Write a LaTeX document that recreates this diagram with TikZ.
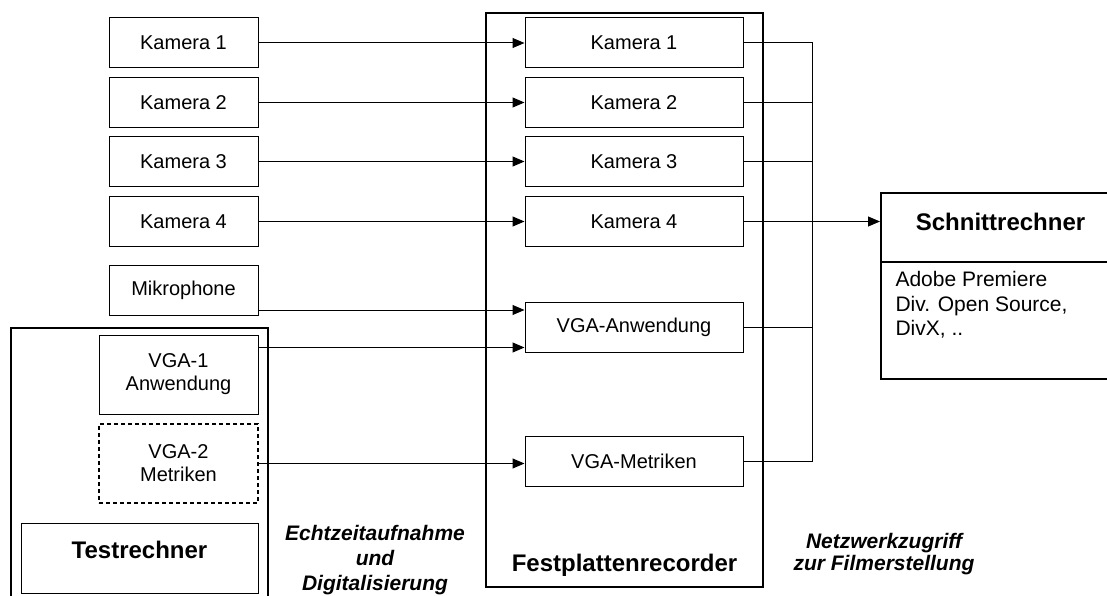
\documentclass[tikz,border=0pt]{standalone}
\usepackage{fontspec}
\setmainfont{Liberation Sans}
\usetikzlibrary{arrows.meta,calc}

\tikzset{every picture/.style={line width=1pt}}

\begin{document}
\begin{tikzpicture}[x=1pt,y=1pt,yscale=-1,xscale=1,
    srcbox/.style={draw, minimum width=149, minimum height=50, inner sep=0pt, align=center, font=\fontsize{20}{23}\selectfont},
    recbox/.style={draw, minimum width=218, minimum height=50, inner sep=0pt, font=\fontsize{20}{23}\selectfont},
    frame/.style={draw, line width=2pt, inner sep=0pt},
    title/.style={inner sep=0pt, font=\fontsize{24}{28}\selectfont\bfseries},
    note/.style={inner sep=0pt, align=center, font=\fontsize{21}{25}\selectfont\bfseries\itshape},
    feed/.style={-{Triangle[length=12pt,width=10pt]}}]
        \useasboundingbox (0,0) rectangle (1107,596);

        %Frames
        \node[frame, minimum width=277, minimum height=574] (recorder) at (624.5,300) {};
        \node[title] (recLabel) at (624.5,565) {Festplattenrecorder};
        \node[frame, minimum width=257, minimum height=290] (testpc) at (139.5,473) {};
        \node[draw, minimum width=237, minimum height=70, inner sep=0pt] (testBox) at (139.5,558) {};
        \node[title] (testLabel) at (139.5,550) {Testrechner};
        \node[frame, minimum width=239, minimum height=186] (schnitt) at (1000.5,286) {};
        \draw[line width=2pt] (schnitt.west |- 0,262) -- (schnitt.east |- 0,262);
        \node[title] (schnittLabel) at (1000.5,222) {Schnittrechner};
        \node[anchor=west, align=left, inner sep=0pt, font=\fontsize{21}{24.5}\selectfont] (schnittSw) at (895,305) {Adobe Premiere\\Div. Open Source,\\DivX, ..};

        %Cameras
        \foreach \i/\y in {1/43,2/102.5,3/161.5,4/221.5} {
            \node[srcbox] (k\i) at (183.5,\y) {Kamera \i};
            \node[recbox] (r\i) at (634,\y) {Kamera \i};
            \draw[feed] (k\i.east) -- (r\i.west);
        }

        %Sources
        \node[srcbox] (mic) at (183.5,290.5) {Mikrophone};
        \node[srcbox, minimum width=159, minimum height=79] (vga1) at (178.5,374.5) {VGA-1\\Anwendung};
        \node[srcbox, minimum width=159, minimum height=79, dashed, dash pattern=on 4pt off 3pt, line width=1.5pt] (vga2) at (178.5,463.5) {VGA-2\\Metriken};
        \node[recbox] (vgaA) at (634,327.5) {VGA-Anwendung};
        \node[recbox] (vgaM) at (634,461) {VGA-Metriken};

        \coordinate (micOut) at ($(mic.south east)+(0,-6)$);
        \coordinate (vga1Out) at ($(vga1.north east)+(0,13)$);
        \draw[feed] (micOut) -- (micOut -| vgaA.west);
        \draw[feed] (vga1Out) -- (vga1Out -| vgaA.west);
        \draw[feed] (vga2.east) -- (vga2.east -| vgaM.west);

        %Network
        \coordinate (bus) at (812,0);
        \draw (r1.east) -- (r1.east -| bus) -- (vgaM.east -| bus) -- (vgaM.east);
        \foreach \n in {r2,r3,vgaA}
            \draw (\n.east) -- (\n.east -| bus);
        \draw[feed] (r4.east) -- (r4.east -| schnitt.west);

        %Notes
        \node[note] (echtzeit) at (375,560) {Echtzeitaufnahme\\und\\Digitalisierung};
        \node[note, font=\fontsize{21}{22}\selectfont\bfseries\itshape] (netz) at (884,554) {Netzwerkzugriff\\zur Filmerstellung};
\end{tikzpicture}
\end{document}
